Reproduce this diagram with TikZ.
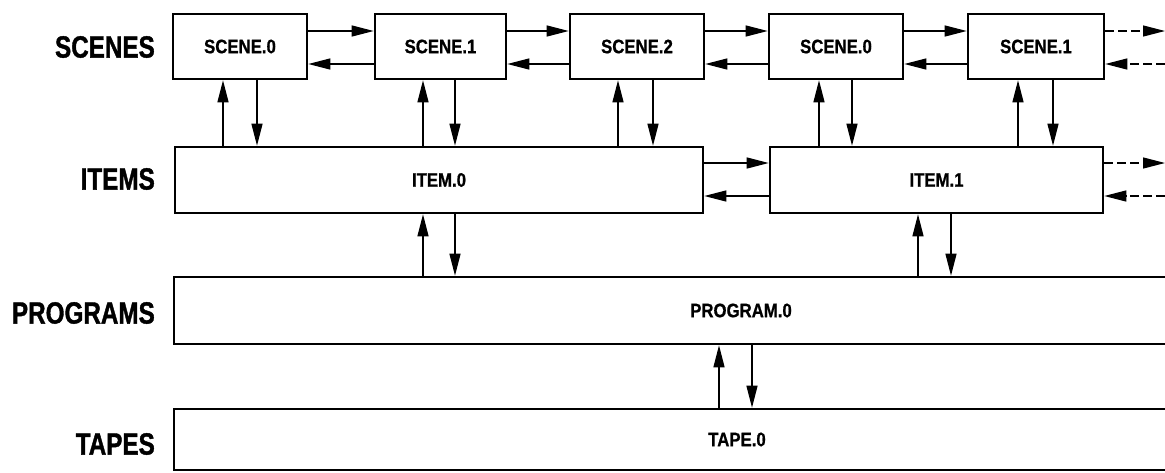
\documentclass[tikz,border=0pt]{standalone}
\usepackage{fontspec}
\setmainfont{Liberation Sans}
\newfontfamily\labfont{Liberation Sans}[FakeStretch=0.79, BoldFeatures={FakeBold=1.2}]
\newfontfamily\boxfont{Liberation Sans}[FakeStretch=0.86, BoldFeatures={FakeBold=0.8}]
\usetikzlibrary{arrows.meta}
\tikzset{
  blk/.style={draw, line width=2.6pt, inner sep=0pt, font=\boxfont\bfseries\fontsize{19.5}{20}\selectfont},
  lab/.style={anchor=east, inner sep=0pt, font=\labfont\bfseries\fontsize{30.7}{32}\selectfont},
  arr/.style={line width=1.3pt, -{Triangle[length=22pt,width=11pt]}},
  darr/.style={arr, dash pattern=on 9pt off 4pt}
}
\begin{document}
\begin{tikzpicture}[x=1pt,y=-1pt]
\useasboundingbox (0,0) rectangle (1165,472);
\clip (0,0) rectangle (1165,472);
% labels
\node[lab] (lsc) at (155,47) {SCENES};
\node[lab] (lit) at (155,179) {ITEMS};
\node[lab] (lpr) at (155,313) {PROGRAMS};
\node[lab] (lta) at (155,444) {TAPES};
% scenes
\node[blk, minimum width=134pt, minimum height=65pt] (sc0) at (240,46.5) {SCENE.0};
\node[blk, minimum width=131pt, minimum height=65pt] (sc1) at (440.5,46.5) {SCENE.1};
\node[blk, minimum width=134pt, minimum height=65pt] (sc2) at (637,46.5) {SCENE.2};
\node[blk, minimum width=134pt, minimum height=65pt] (sc3) at (836,46.5) {SCENE.0};
\node[blk, minimum width=136pt, minimum height=65pt] (sc4) at (1036,46.5) {SCENE.1};
% items
\node[blk, minimum width=528pt, minimum height=66pt] (it0) at (439,180) {ITEM.0};
\node[blk, minimum width=333pt, minimum height=66pt] (it1) at (936.5,180) {ITEM.1};
% programs and tapes (extend past right edge)
\node[blk, minimum width=1134pt, minimum height=67pt] (pr0) at (741,310.5) {PROGRAM.0};
\node[blk, minimum width=1126pt, minimum height=61pt] (ta0) at (737,439.5) {TAPE.0};
% helper rows
\coordinate (r1) at (0,31);
\coordinate (r2) at (0,64);
\coordinate (r3) at (0,163);
\coordinate (r4) at (0,196);
\coordinate (edge) at (1165,0);
% horizontal scene arrows
\foreach \a/\b in {sc0/sc1, sc1/sc2, sc2/sc3, sc3/sc4}{
  \draw[arr] (\a.east |- r1) -- (\b.west |- r1);
  \draw[arr] (\b.west |- r2) -- (\a.east |- r2);
}
\draw[darr] (sc4.east |- r1) -- (edge |- r1);
\draw[darr] (edge |- r2) -- (sc4.east |- r2);
% horizontal item arrows
\draw[arr] (it0.east |- r3) -- (it1.west |- r3);
\draw[arr] (it1.west |- r4) -- (it0.east |- r4);
\draw[darr] (it1.east |- r3) -- (edge |- r3);
\draw[darr] (edge |- r4) -- (it1.east |- r4);
% vertical arrows
\foreach \s/\i/\u/\d in {sc0/it0/223/257, sc1/it0/423/455, sc2/it0/618/653, sc3/it1/819/852, sc4/it1/1018/1053, it0/pr0/423/455, it1/pr0/918/951, pr0/ta0/719/752}{
  \coordinate (u) at (\u,0);
  \coordinate (d) at (\d,0);
  \draw[arr] (\i.north -| u) -- (\s.south -| u);
  \draw[arr] (\s.south -| d) -- (\i.north -| d);
}
\end{tikzpicture}
\end{document}
